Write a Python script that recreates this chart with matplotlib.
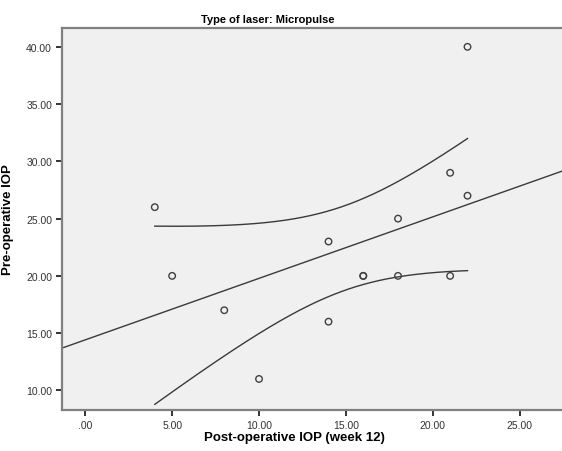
import numpy as np
import matplotlib
matplotlib.use("Agg")
import matplotlib.pyplot as plt

plt.rcParams["font.family"] = ["Liberation Sans", "DejaVu Sans"]

# data
post_iop = [4, 5, 8, 10, 14, 14, 16, 16, 18, 18, 21, 21, 22, 22]
pre_iop = [26, 20, 17, 11, 23, 16, 20, 20, 25, 20, 29, 20, 40, 27]
x_ticks = [0, 5, 10, 15, 20, 25]
y_ticks = [10, 15, 20, 25, 30, 35, 40]

x = np.array(post_iop, dtype=float)
y = np.array(pre_iop, dtype=float)

# linear fit + 95% CI of the mean
slope, intercept = np.polyfit(x, y, 1)
n = len(x)
resid = y - (slope * x + intercept)
s = np.sqrt(np.sum(resid ** 2) / (n - 2))
sxx = np.sum((x - x.mean()) ** 2)
t_val = 2.179  # t(0.975, df=12)

fig = plt.figure(figsize=(5.62, 4.52), dpi=100)
ax = fig.add_axes([0.110, 0.091, 0.895, 0.845])
ax.set_facecolor("#F0F0F0")

xlim = (-1.35, 27.6)
ax.set_xlim(xlim)
ax.set_ylim(8.3, 41.65)

xx = np.linspace(xlim[0], xlim[1], 200)
ax.plot(xx, slope * xx + intercept, color="#3a3a3a", lw=1.0)

xc = np.linspace(x.min(), x.max(), 200)
half = t_val * s * np.sqrt(1 / n + (xc - x.mean()) ** 2 / sxx)
fit_c = slope * xc + intercept
ax.plot(xc, fit_c + half, color="#3a3a3a", lw=1.0)
ax.plot(xc, fit_c - half, color="#3a3a3a", lw=1.0)

ax.scatter(x, y, s=22, facecolors="none", edgecolors="#404040", linewidths=1.0, zorder=3)

for side in ["left", "bottom", "top"]:
    ax.spines[side].set_color("#808080")
    ax.spines[side].set_linewidth(1.6)
ax.spines["right"].set_visible(False)

ax.set_xticks(x_ticks)
ax.set_xticklabels([".00" if v == 0 else f"{v:.2f}" for v in x_ticks])
ax.set_yticks(y_ticks)
ax.set_yticklabels([f"{v:.2f}" for v in y_ticks])
ax.tick_params(direction="out", length=4, width=1.4, color="#333333",
               labelsize=7.5, labelcolor="#333333", pad=3)

ax.set_xlabel("Post-operative IOP (week 12)", fontsize=9.5, fontweight="bold", va="center")
ax.xaxis.set_label_coords(0.463, -0.071)
ax.set_ylabel("Pre-operative IOP", fontsize=9.5, fontweight="bold", labelpad=9)
fig.text(0.477, 0.956, "Type of laser: Micropulse", fontsize=8, fontweight="bold",
         ha="center", va="center")

fig.savefig("out.png", dpi=100)
